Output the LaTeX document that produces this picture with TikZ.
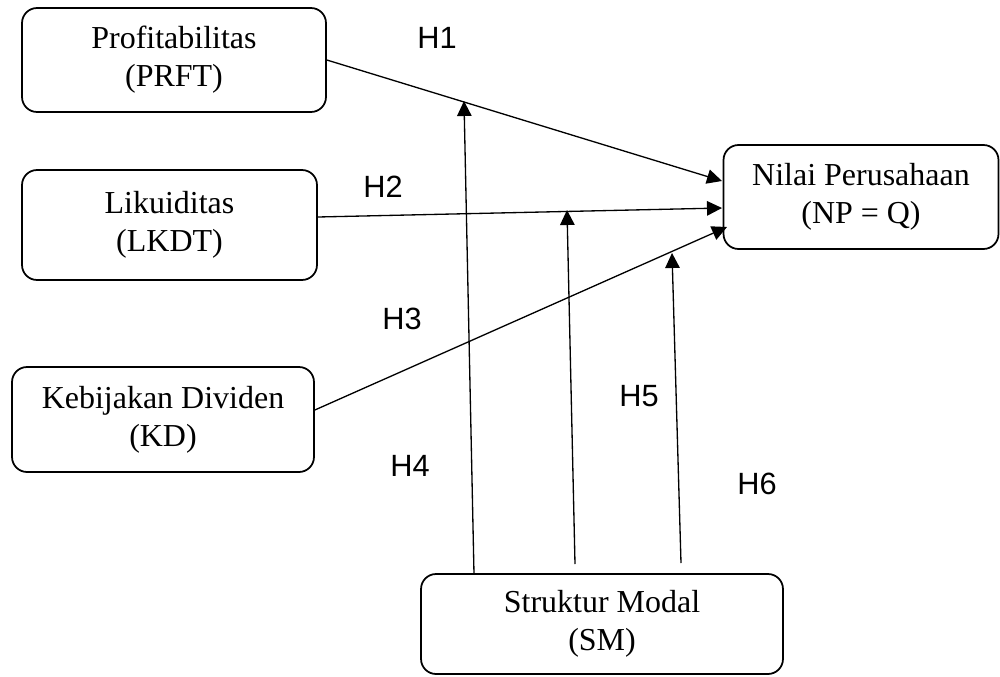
\documentclass[tikz,border=0pt]{standalone}
\usepackage{fontspec}
\setmainfont{Liberation Serif}
\newfontfamily\hfont{Liberation Sans}
\usetikzlibrary{arrows.meta}

\begin{document}
\begin{tikzpicture}[x=0.02cm, y=-0.02cm,
		var/.style={draw, line width=1pt, rounded corners=0.3cm, align=center, inner sep=0pt, font=\fontsize{18.2}{21.5}\selectfont},
		hyp/.style={font=\hfont\fontsize{17.5}{21}\selectfont},
		link/.style={line width=0.75pt, -{Triangle[length=0.3cm, width=0.29cm]}}]
		\useasboundingbox (0, 0) rectangle (1000, 676);

		\node[var, minimum width=6.08cm, minimum height=2.08cm] (prft) at (174, 60) {Profitabilitas\\(PRFT)};
		\node[var, minimum width=5.9cm, minimum height=2.2cm] (lkdt) at (169.5, 225) {Likuiditas\\(LKDT)};
		\node[var, minimum width=6.04cm, minimum height=2.1cm] (kd) at (163, 419.5) {Kebijakan Dividen\\(KD)};
		\node[var, minimum width=5.5cm, minimum height=2.08cm] (np) at (861, 197) {Nilai Perusahaan\\(NP = Q)};
		\node[var, minimum width=7.24cm, minimum height=2cm] (sm) at (602, 624) {Struktur Modal\\(SM)};

		\coordinate (h1end) at (722, 181);
		\coordinate (h2end) at (722, 208);
		\coordinate (h3end) at (727, 227);
		\coordinate (h4end) at (464, 101);
		\coordinate (h5end) at (567, 210);
		\coordinate (h6end) at (672, 253);
		\coordinate (h4start) at (474, 574);
		\coordinate (h5start) at (575, 564);
		\coordinate (h6start) at (681, 563);

		\draw[link] (prft.east) -- (h1end);
		\draw[link] ([yshift=0.16cm]lkdt.east) -- (h2end);
		\draw[link] ([yshift=0.19cm]kd.east) -- (h3end);
		\draw[link] (h4start) -- (h4end);
		\draw[link] (h5start) -- (h5end);
		\draw[link] (h6start) -- (h6end);

		\node[hyp] (h1) at (437, 38) {H1};
		\node[hyp] (h2) at (383, 187) {H2};
		\node[hyp] (h3) at (402, 319) {H3};
		\node[hyp] (h4) at (410, 466) {H4};
		\node[hyp] (h5) at (639, 396) {H5};
		\node[hyp] (h6) at (757, 484) {H6};
	\end{tikzpicture}
\end{document}
